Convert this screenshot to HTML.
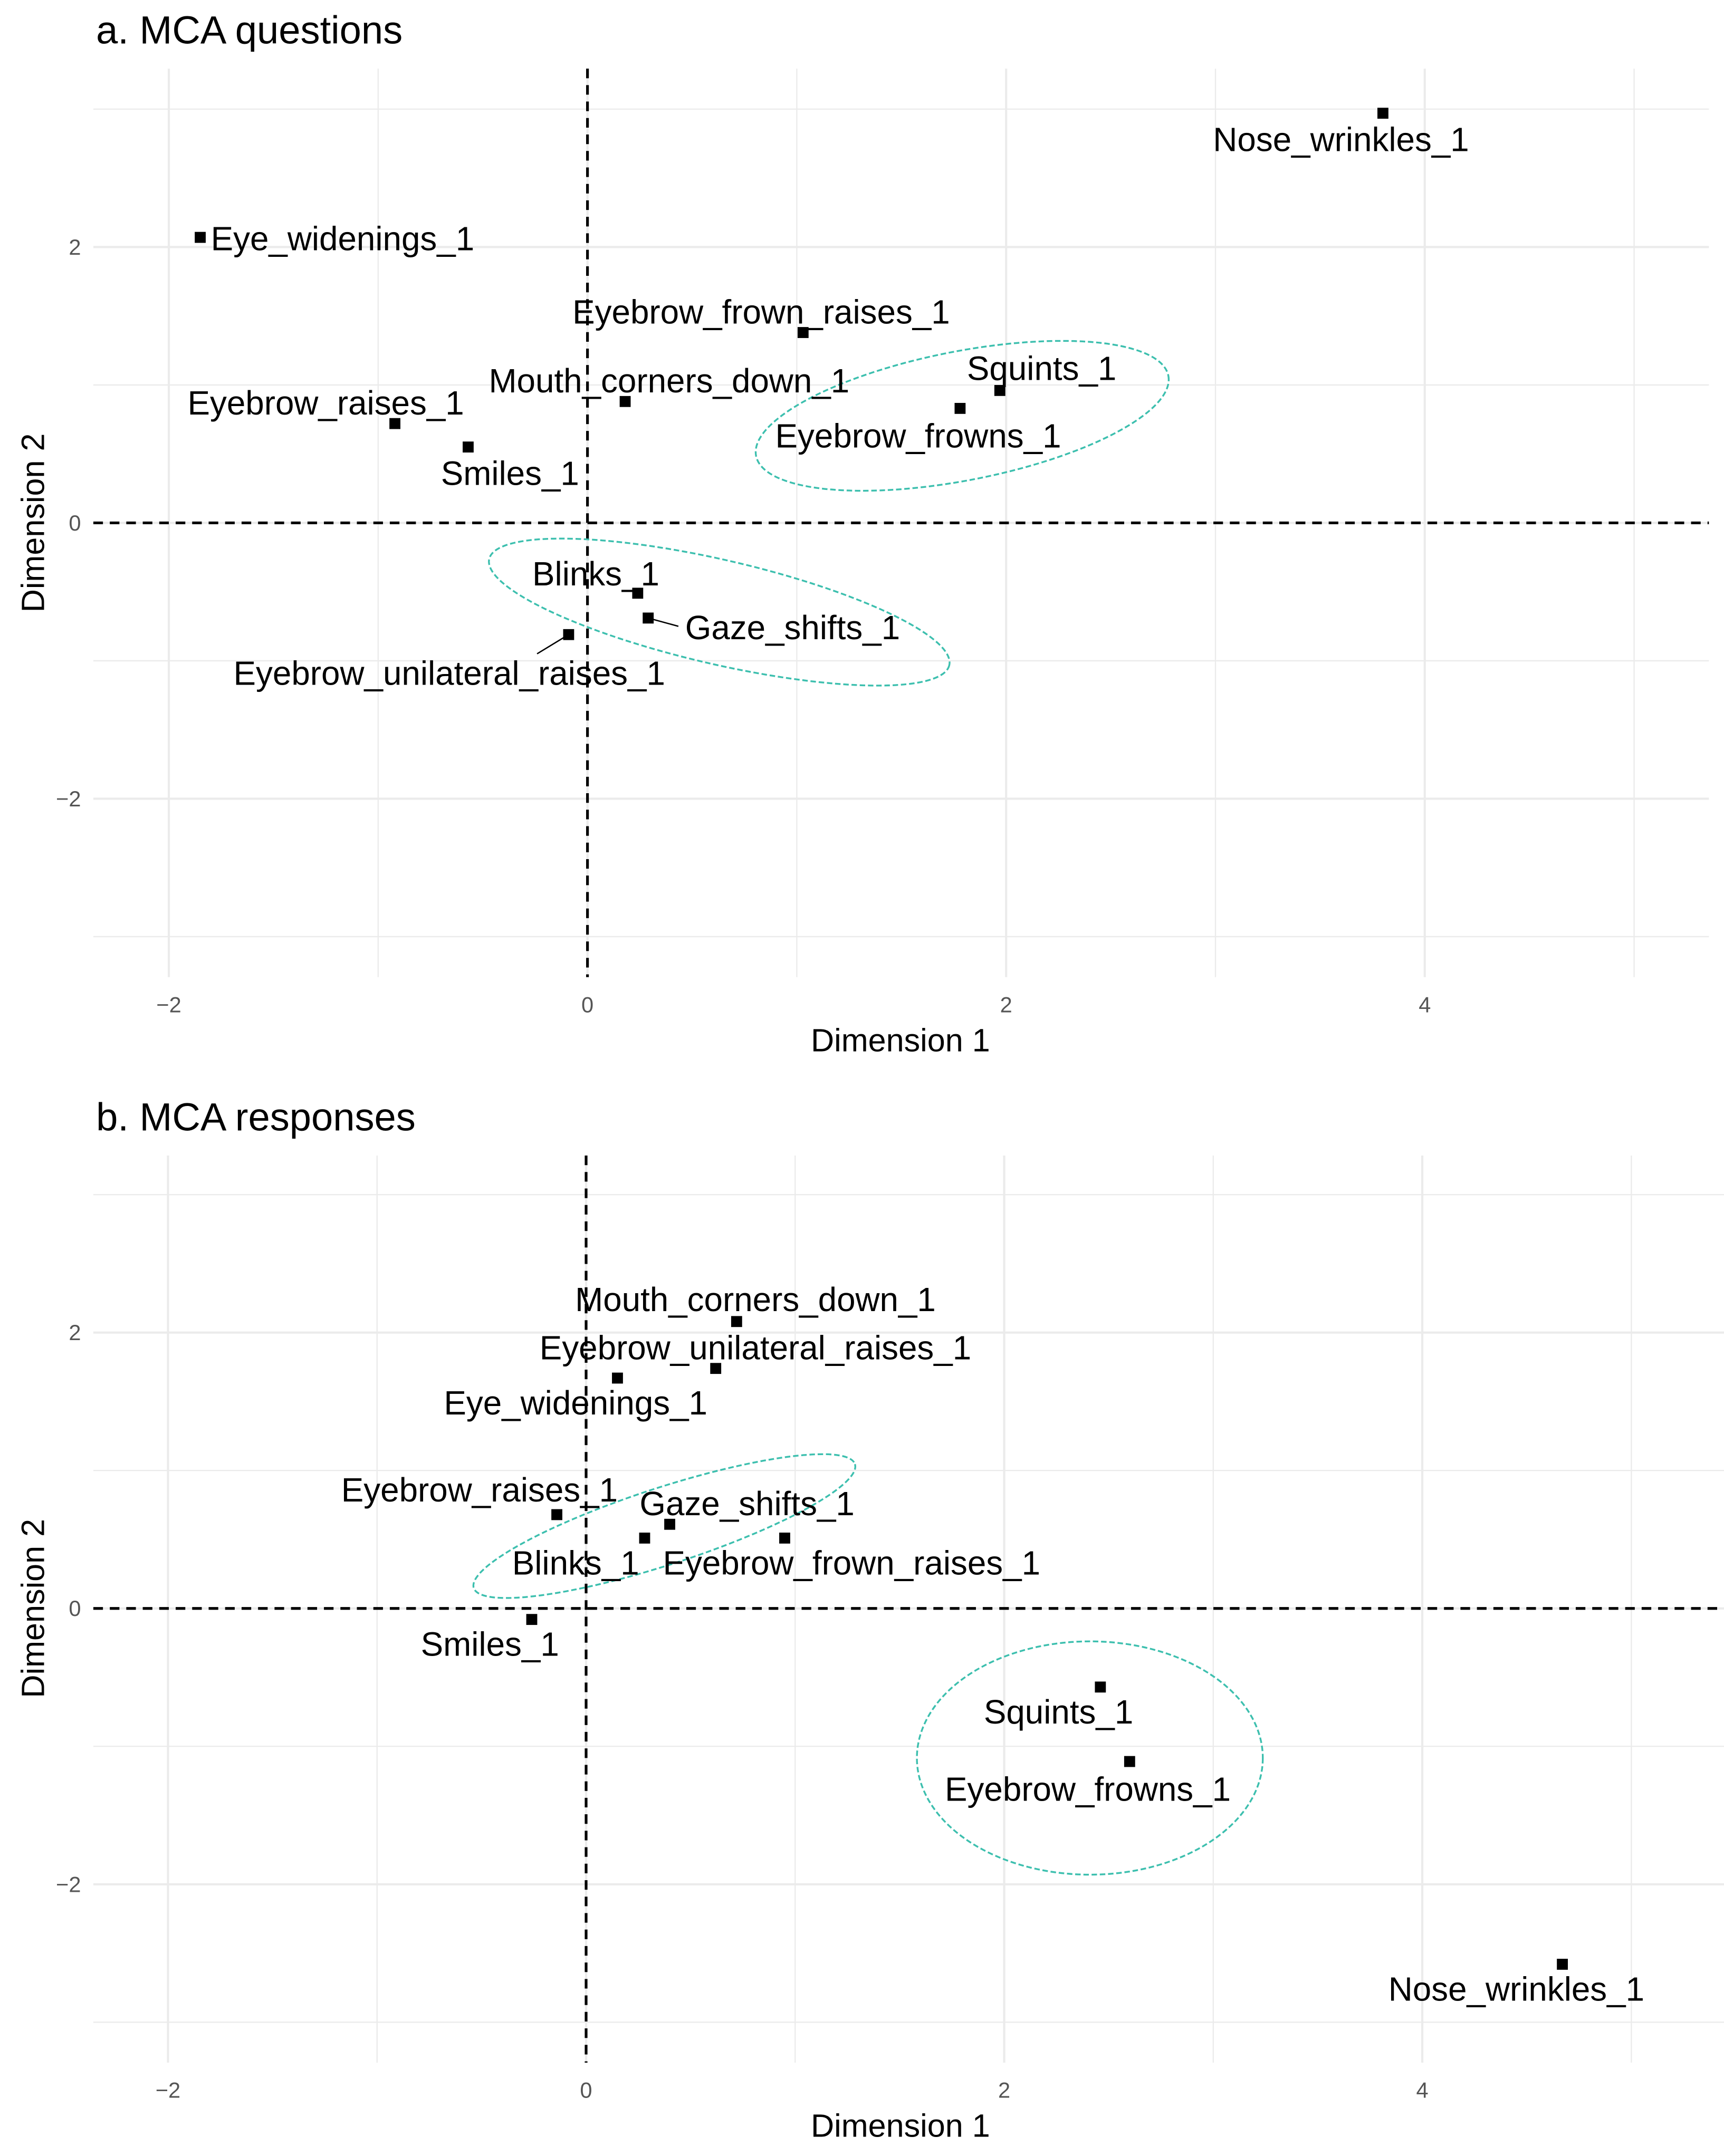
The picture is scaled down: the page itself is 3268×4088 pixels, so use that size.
<!DOCTYPE html>
<html><head><meta charset="utf-8"><style>
html,body{margin:0;padding:0;background:#fff;}
svg{display:block;}
text{font-family:"Liberation Sans",Arial,sans-serif;}
</style></head><body>
<svg id="chart" width="3268" height="4088" viewBox="0 0 1256 1571" preserveAspectRatio="none" xmlns="http://www.w3.org/2000/svg"></svg>
<script>
// Panel a data
const aNames = ["Nose_wrinkles_1","Eye_widenings_1","Eyebrow_frown_raises_1","Squints_1","Eyebrow_frowns_1","Mouth_corners_down_1","Eyebrow_raises_1","Smiles_1","Blinks_1","Gaze_shifts_1","Eyebrow_unilateral_raises_1"];
const aX = [3.80,-1.85,1.03,1.97,1.78,0.18,-0.92,-0.57,0.24,0.29,-0.09];
const aY = [2.97,2.07,1.38,0.96,0.83,0.88,0.72,0.55,-0.51,-0.69,-0.81];
const aLabelX = [3.60,-1.17,0.83,2.17,1.58,0.39,-1.25,-0.37,0.04,0.98,-0.66];
const aLabelY = [2.78,2.06,1.53,1.12,0.63,1.03,0.87,0.36,-0.37,-0.76,-1.09];
// Panel b data
const bNames = ["Mouth_corners_down_1","Eyebrow_unilateral_raises_1","Eye_widenings_1","Eyebrow_raises_1","Gaze_shifts_1","Blinks_1","Eyebrow_frown_raises_1","Smiles_1","Squints_1","Eyebrow_frowns_1","Nose_wrinkles_1"];
const bX = [0.72,0.62,0.15,-0.14,0.40,0.28,0.95,-0.26,2.46,2.60,4.67];
const bY = [2.08,1.74,1.67,0.68,0.61,0.51,0.51,-0.08,-0.57,-1.11,-2.58];
const bLabelX = [0.81,0.81,-0.05,-0.51,0.77,-0.05,1.27,-0.46,2.26,2.40,4.45];
const bLabelY = [2.24,1.89,1.49,0.86,0.76,0.33,0.33,-0.26,-0.75,-1.31,-2.76];
const xTicks = [-2,0,2,4];
const yTicks = [-2,0,2];

const NS="http://www.w3.org/2000/svg";
const svg=document.getElementById('chart');
function el(tag,attrs,parent){const e=document.createElementNS(NS,tag);for(const k in attrs)e.setAttribute(k,attrs[k]);(parent||svg).appendChild(e);return e;}

function panel(cfg){
  const g=el('g',{});
  
  
  const sx=v=>cfg.x0+v*cfg.ux, sy=v=>cfg.y0-v*cfg.uy;
  const t=el('text',{x:70,y:cfg.titleY,'font-size':28.5,fill:'#000','dominant-baseline':'central'},g);
  t.textContent=cfg.title;
  
  
  for(let v=-3;v<=3;v++){
    const l=el('line',{x1:cfg.left,x2:cfg.right,y1:sy(v),y2:sy(v),stroke:'#ebebeb','stroke-width':v%2===0?1.6:0.9},g);
    
    
  }
  for(let v=-2;v<=5;v++){
    const l=el('line',{x1:sx(v),x2:sx(v),y1:cfg.top,y2:cfg.bottom,stroke:'#ebebeb','stroke-width':v%2===0?1.6:0.9},g);
    
    
  }
  xTicks.forEach(v=>{
    const tx=el('text',{x:sx(v),y:cfg.bottom+20,'font-size':16,fill:'#555','text-anchor':'middle','dominant-baseline':'central'},g);
    tx.textContent=v<0?'\u2212'+(-v):String(v);
    
    
  });
  yTicks.forEach(v=>{
    const ty=el('text',{x:cfg.left-9,y:sy(v),'font-size':16,fill:'#555','text-anchor':'end','dominant-baseline':'central'},g);
    ty.textContent=v<0?'\u2212'+(-v):String(v);
    
    
  });
  const zx=el('line',{x1:sx(0),x2:sx(0),y1:cfg.top,y2:cfg.bottom,stroke:'#000','stroke-width':2,'stroke-dasharray':'7,5'},g);
  
  
  const zy=el('line',{x1:cfg.left,x2:cfg.right,y1:sy(0),y2:sy(0),stroke:'#000','stroke-width':2,'stroke-dasharray':'7,5'},g);
  
  
  cfg.ellipses.forEach(e=>{
    const c=el('ellipse',{cx:e[0],cy:e[1],rx:e[2],ry:e[3],transform:`rotate(${e[4]} ${e[0]} ${e[1]})`,fill:'none',stroke:'#3cbfae','stroke-width':1.3,'stroke-dasharray':'4,2'},g);
    
    
  });
  cfg.segs.forEach(s=>{
    const i=s[0];
    const px=sx(cfg.X[i]),py=sy(cfg.Y[i]);
    const sg=el('line',{x1:px,y1:py,x2:px+s[1],y2:py+s[2],stroke:'#000','stroke-width':1},g);
    
    
  });
  cfg.names.forEach((n,i)=>{
    const px=sx(cfg.X[i]),py=sy(cfg.Y[i]);
    const lx=sx(cfg.LX[i]),ly=sy(cfg.LY[i]);
    const p=el('rect',{x:px-4,y:py-4,width:8,height:8,fill:'#000'},g);
    
    
    const lb=el('text',{x:lx,y:ly,'font-size':24.5,fill:'#000','text-anchor':'middle','dominant-baseline':'central'},g);
    lb.textContent=n;
    
    
  });
  const xt=el('text',{x:656,y:cfg.bottom+46,'font-size':23.5,fill:'#000','text-anchor':'middle','dominant-baseline':'central'},g);
  xt.textContent='Dimension 1';
  
  
  const yt=el('text',{x:24,y:cfg.y0,'font-size':23.5,fill:'#000','text-anchor':'middle','dominant-baseline':'central',transform:`rotate(-90 24 ${cfg.y0})`},g);
  yt.textContent='Dimension 2';
  
  
}

panel({id:'a',title:'a. MCA questions',titleY:22,x0:428,ux:152.5,y0:381,uy:100.5,left:68,right:1245,top:50,bottom:712,
  names:aNames,X:aX,Y:aY,LX:aLabelX,LY:aLabelY,
  segs:[[9,22,6],[10,-23,14]],
  ellipses:[[701,303,153,47,-11],[524,446,172,38,13]]});
panel({id:'b',title:'b. MCA responses',titleY:814,x0:427,ux:152.3,y0:1172,uy:100.5,left:68,right:1268,top:842,bottom:1503,
  names:bNames,X:bX,Y:bY,LX:bLabelX,LY:bLabelY,
  segs:[],
  ellipses:[[484,1112,146,28,-18],[794,1281,126,85,0]]});
</script>
</body></html>
